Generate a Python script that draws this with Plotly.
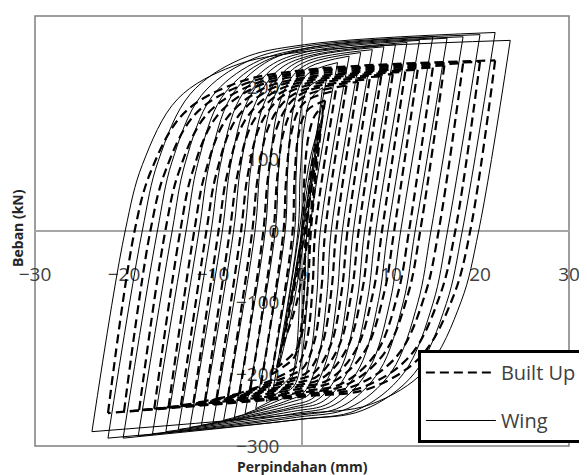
import plotly.graph_objects as go

# Hysteresis loops (displacement mm, load kN)
wing_x = [
    [-1.4, 0.0, 1.2, 0.1, -1.4],
    [-2.6, -0.3, 0.9, 2.0, 0.35, -1.0, -2.6],
    [-3.3, -0.45, -0.2, 0.3, 1.0, 2.3, 0.55, 0.25, -0.3, -1.1, -3.3],
    [-4.0, -0.83, -0.67, -0.34, 0.19, 0.84, 2.8, -0.07, -0.25, -0.60, -1.17, -1.88, -4.0],
    [-5.2, -1.89, -1.62, -1.09, -0.24, 0.82, 4.0, 0.87, 0.60, 0.04, -0.83, -1.92, -5.2],
    [-6.4, -3.00, -2.63, -1.87, -0.68, 0.82, 5.3, 2.05, 1.67, 0.90, -0.32, -1.84, -6.4],
    [-7.6, -4.13, -3.65, -2.67, -1.13, 0.81, 6.6, 3.28, 2.79, 1.80, 0.23, -1.72, -7.6],
    [-8.8, -5.28, -4.69, -3.49, -1.59, 0.78, 7.9, 4.53, 3.93, 2.72, 0.80, -1.60, -8.8],
    [-10.0, -6.43, -5.73, -4.30, -2.05, 0.76, 9.2, 5.77, 5.06, 3.63, 1.35, -1.48, -10.0],
    [-11.3, -7.69, -6.87, -5.22, -2.60, 0.68, 10.5, 7.03, 6.21, 4.54, 1.90, -1.40, -11.3],
    [-12.6, -8.95, -8.02, -6.13, -3.14, 0.60, 11.8, 8.29, 7.35, 5.45, 2.44, -1.32, -12.6],
    [-13.9, -10.21, -9.16, -7.03, -3.66, 0.56, 13.2, 9.65, 8.59, 6.45, 3.06, -1.18, -13.9],
    [-15.3, -11.57, -10.39, -8.00, -4.21, 0.51, 14.7, 11.09, 9.90, 7.50, 3.70, -1.05, -15.3],
    [-16.8, -13.03, -11.71, -9.04, -4.82, 0.46, 16.3, 12.71, 11.38, 8.70, 4.45, -0.86, -16.8],
    [-18.4, -14.59, -13.12, -10.14, -5.44, 0.45, 18.1, 14.49, 13.01, 10.02, 5.28, -0.64, -18.4],
    [-20.1, -16.25, -14.62, -11.32, -6.10, 0.43, 20.0, 16.35, 14.71, 11.39, 6.14, -0.42, -20.1],
    [-21.8, -17.95, -16.17, -12.56, -6.85, 0.29, 21.7, 18.01, 16.22, 12.60, 6.86, -0.30, -21.8],
    [-23.6, -19.87, -17.92, -13.99, -7.75, 0.03, 23.4, 19.85, 17.89, 13.94, 7.68, -0.14, -23.6],
]
wing_y = [
    [-105, 0, 90, 0, -105],
    [-190, 0, 100, 150, 0, -105, -190],
    [-225, 0, 80, 150, 185, 200, 0, -85, -160, -200, -225],
    [-238, 0, 75, 148, 186, 202, 215, 0, -83, -164, -206, -217, -238],
    [-248, 0, 82, 162, 203, 221, 235, 0, -87, -171, -215, -226, -248],
    [-255, 0, 85, 168, 211, 229, 244, 0, -89, -176, -221, -232, -255],
    [-260, 0, 87, 172, 215, 234, 249, 0, -91, -179, -225, -237, -260],
    [-264, 0, 89, 175, 219, 238, 253, 0, -92, -182, -228, -240, -264],
    [-268, 0, 90, 177, 222, 242, 257, 0, -94, -185, -232, -244, -268],
    [-271, 0, 91, 179, 225, 244, 260, 0, -95, -187, -234, -247, -271],
    [-274, 0, 92, 181, 228, 247, 263, 0, -96, -189, -237, -249, -274],
    [-277, 0, 93, 184, 230, 250, 266, 0, -97, -191, -240, -252, -277],
    [-280, 0, 95, 187, 234, 255, 271, 0, -98, -193, -242, -255, -280],
    [-283, 0, 94, 186, 233, 253, 269, 0, -99, -195, -245, -258, -283],
    [-286, 0, 95, 187, 234, 255, 271, 0, -100, -197, -247, -260, -286],
    [-289, 0, 96, 189, 237, 258, 274, 0, -101, -199, -250, -263, -289],
    [-289, 0, 97, 191, 240, 260, 277, 0, -101, -199, -250, -263, -289],
    [-280, 0, 93, 184, 230, 250, 266, 0, -98, -193, -242, -255, -280],
]

built_x = [
    [-2.2, 0.3, 1.1, 1.9, 0.75, -0.6, -2.2],
    [-2.8, 0.05, 0.25, 0.7, 1.4, 2.4, 1.0, 0.7, 0.2, -0.6, -2.8],
    [-3.4, -1.05, -0.87, -0.50, 0.08, 0.81, 2.6, 0.46, 0.27, -0.12, -0.73, -1.30, -3.4],
    [-4.6, -2.08, -1.80, -1.23, -0.32, 0.81, 3.8, 1.49, 1.20, 0.61, -0.33, -1.30, -4.6],
    [-5.8, -3.20, -2.81, -2.03, -0.79, 0.76, 5.0, 2.61, 2.21, 1.41, 0.14, -1.24, -5.8],
    [-7.0, -4.34, -3.84, -2.84, -1.25, 0.74, 6.3, 3.85, 3.34, 2.32, 0.70, -1.13, -7.0],
    [-8.3, -5.59, -4.98, -3.74, -1.78, 0.66, 7.6, 5.11, 4.49, 3.23, 1.24, -1.04, -8.3],
    [-9.6, -6.85, -6.12, -4.65, -2.33, 0.58, 8.9, 6.36, 5.62, 4.14, 1.78, -0.97, -9.6],
    [-10.9, -8.11, -7.27, -5.57, -2.87, 0.50, 10.2, 7.62, 6.77, 5.05, 2.32, -0.88, -10.9],
    [-12.2, -9.38, -8.42, -6.47, -3.39, 0.45, 11.6, 8.99, 8.02, 6.05, 2.94, -0.74, -12.2],
    [-13.6, -10.74, -9.65, -7.46, -3.98, 0.36, 13.0, 10.35, 9.25, 7.04, 3.53, -0.65, -13.6],
    [-15.0, -12.11, -10.90, -8.46, -4.60, 0.22, 14.7, 12.02, 10.80, 8.35, 4.45, -0.41, -15.0],
    [-16.6, -13.68, -12.34, -9.64, -5.37, -0.03, 16.0, 13.28, 11.94, 9.22, 4.91, -0.46, -16.6],
    [-18.3, -15.36, -13.85, -10.81, -5.99, 0.03, 18.1, 15.35, 13.84, 10.77, 5.93, -0.13, -18.3],
    [-20.0, -17.04, -15.37, -12.00, -6.67, 0.00, 20.0, 17.22, 15.55, 12.16, 6.80, 0.10, -20.0],
    [-21.8, -18.81, -16.99, -13.30, -7.47, -0.18, 21.7, 18.90, 17.07, 13.36, 7.50, 0.18, -21.8],
]
built_y = [
    [-160, 0, 90, 140, 0, -100, -160],
    [-190, 0, 70, 130, 160, 175, 0, -70, -130, -165, -190],
    [-200, 0, 64, 126, 157, 171, 182, 0, -70, -138, -173, -182, -200],
    [-214, 0, 69, 135, 170, 184, 196, 0, -75, -148, -185, -195, -214],
    [-221, 0, 71, 140, 176, 191, 203, 0, -77, -153, -191, -201, -221],
    [-226, 0, 73, 144, 180, 196, 208, 0, -79, -156, -196, -206, -226],
    [-230, 0, 74, 146, 183, 199, 212, 0, -81, -159, -199, -209, -230],
    [-234, 0, 76, 149, 187, 203, 216, 0, -82, -161, -202, -213, -234],
    [-237, 0, 77, 151, 189, 206, 219, 0, -83, -164, -205, -216, -237],
    [-240, 0, 78, 153, 192, 209, 222, 0, -84, -166, -208, -218, -240],
    [-243, 0, 79, 155, 195, 212, 225, 0, -85, -168, -210, -221, -243],
    [-246, 0, 80, 157, 197, 214, 228, 0, -86, -170, -213, -224, -246],
    [-248, 0, 81, 159, 200, 217, 231, 0, -87, -171, -215, -226, -248],
    [-250, 0, 82, 161, 202, 220, 234, 0, -88, -173, -216, -228, -250],
    [-252, 0, 83, 163, 204, 222, 236, 0, -88, -174, -218, -229, -252],
    [-254, 0, 83, 164, 206, 224, 238, 0, -89, -175, -220, -231, -254],
]

x_ticks = [-30, -20, -10, 0, 10, 20, 30]
y_ticks = [-300, -200, -100, 0, 100, 200, 300]


def join_loops(loops_x, loops_y):
    """Split every loop at its positive peak so each branch is its own curve."""
    xs, ys = [], []
    for lx, ly in zip(loops_x, loops_y):
        k = ly.index(max(ly))
        xs += lx[:k + 1] + [None] + lx[k:] + [None]
        ys += ly[:k + 1] + [None] + ly[k:] + [None]
    return xs, ys


fig = go.Figure()
wx, wy = join_loops(wing_x, wing_y)
fig.add_trace(go.Scatter(
    x=wx, y=wy, mode="lines", name="Wing", legendrank=2, legendgroup="w",
    line=dict(color="black", width=1, shape="spline", smoothing=1.0),
    connectgaps=False, hoverinfo="skip"))
bx, by = join_loops(built_x, built_y)
fig.add_trace(go.Scatter(
    x=bx, y=by, mode="lines", name="Built Up", legendrank=1, legendgroup="b",
    line=dict(color="black", width=2.2, dash="9px,5px", shape="spline", smoothing=1.0),
    connectgaps=False, hoverinfo="skip"))

axis_common = dict(showgrid=False, zeroline=False, showline=True,
                   linecolor="#a6a6a6", linewidth=1.5, ticks="",
                   tickfont=dict(family="Open Sans", size=19, color="#404040"),
                   layer="below traces", anchor="free", position=0.5,
                   automargin=False)

# the page body adds an 8 px offset, so the figure is 8 px smaller than the window
fig.update_layout(
    width=579, height=467,
    margin=dict(l=27, r=18, t=8, b=29, autoexpand=False),
    paper_bgcolor="white", plot_bgcolor="white",
    font=dict(family="Open Sans", color="#404040"),
    xaxis=dict(range=[-30, 30], tickvals=x_ticks, ticklabelstandoff=26, **axis_common),
    yaxis=dict(range=[-300, 300], tickvals=y_ticks, ticklabelstandoff=18, **axis_common),
    legend=dict(x=0.717, y=0.007, xanchor="left", yanchor="bottom",
                bgcolor="white", bordercolor="black", borderwidth=3,
                font=dict(family="Open Sans", size=20, color="#404040"),
                itemwidth=70, tracegroupgap=19, traceorder="grouped"),
    shapes=[dict(type="rect", xref="paper", yref="paper", x0=0, y0=0, x1=1, y1=1,
                 line=dict(color="#7f7f7f", width=1.5), layer="below")],
    annotations=[
        dict(text="<b>Perpindahan (mm)</b>", xref="paper", yref="paper",
             x=0.5, y=-0.048, xanchor="center", yanchor="middle", showarrow=False,
             font=dict(family="Open Sans", size=14, color="#262626")),
        dict(text="<b>Beban (kN)</b>", xref="paper", yref="paper", textangle=-90,
             x=-0.032, y=0.507, xanchor="center", yanchor="middle", showarrow=False,
             font=dict(family="Open Sans", size=14, color="#262626")),
    ],
)

fig.write_html("out.html")
